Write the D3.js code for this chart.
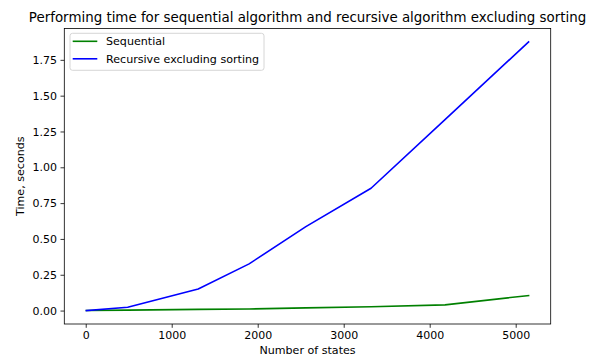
<!DOCTYPE html>
<html>
<head>
<meta charset="utf-8">
<script src="https://cdn.jsdelivr.net/npm/d3@7"></script>
<style>
  body { margin: 0; background: #fff; }
  svg { display: block; font-family: "DejaVu Sans", sans-serif; }
</style>
</head>
<body>
<svg id="chart" width="598" height="356"></svg>
<script>
// number of states
var states = [8, 488, 1308, 1900, 2560, 3318, 4178, 5150];
// seconds
var sequential = [0.0005, 0.003, 0.008, 0.011, 0.019, 0.027, 0.040, 0.105];
var recursive = [0.0, 0.023, 0.151, 0.326, 0.586, 0.854, 1.333, 1.875];
var xTicks = [0, 1000, 2000, 3000, 4000, 5000];
var yTicks = [0, 0.25, 0.5, 0.75, 1.0, 1.25, 1.5, 1.75];
var seriesNames = ['Sequential', 'Recursive excluding sorting'];
var seriesColors = ['green', 'blue'];

var svg = d3.select('#chart');
// plot area (window.top is reserved, so use own names)
var plotLeft = 64.3, plotRight = 550.7, plotTop = 28.5, plotBottom = 324;

// matplotlib style 5% margins
var xmin = d3.min(states), xmax = d3.max(states);
var dx = (xmax - xmin) * 0.05;
var x = d3.scaleLinear().domain([xmin - dx, xmax + dx]).range([plotLeft, plotRight]);

var ymin = 0, ymax = d3.max(recursive);
var dy = (ymax - ymin) * 0.05;
var y = d3.scaleLinear().domain([ymin - dy, ymax + dy]).range([plotBottom, plotTop]);

// lines
var series = [sequential, recursive];
var line = d3.line()
  .x(function(d, i) { return x(states[i]); })
  .y(function(d) { return y(d); });

svg.selectAll('path.series')
  .data(series).enter()
  .append('path')
  .attr('class', 'series')
  .attr('d', line)
  .attr('fill', 'none')
  .attr('stroke', function(d, i) { return seriesColors[i]; })
  .attr('stroke-width', 1.6)
  .attr('stroke-linejoin', 'round')
  .attr('stroke-linecap', 'square');

// axes
var xAxis = d3.axisBottom(x).tickValues(xTicks).tickFormat(d3.format('d')).tickSizeOuter(0).tickSize(3.8).tickPadding(3.6);
var yAxis = d3.axisLeft(y).tickValues(yTicks).tickFormat(d3.format('.2f')).tickSizeOuter(0).tickSize(3.8).tickPadding(3.6);

var gx = svg.append('g').attr('transform', 'translate(0,' + plotBottom + ')').call(xAxis);
var gy = svg.append('g').attr('transform', 'translate(' + plotLeft + ',0)').call(yAxis);
[gx, gy].forEach(function(g) {
  g.select('.domain').remove();
  g.selectAll('line').attr('stroke', '#000').attr('stroke-width', 0.8);
  g.selectAll('text').attr('fill', '#000').style('font-size', '11px').style('font-family', '"DejaVu Sans", sans-serif');
});

// frame
svg.append('rect')
  .attr('x', plotLeft).attr('y', plotTop)
  .attr('width', plotRight - plotLeft).attr('height', plotBottom - plotTop)
  .attr('fill', 'none').attr('stroke', '#000').attr('stroke-width', 0.8);

// title and labels
svg.append('text')
  .attr('x', (plotLeft + plotRight) / 2).attr('y', 21.5)
  .attr('text-anchor', 'middle')
  .style('font-size', '13.4px')
  .text('Performing time for sequential algorithm and recursive algorithm excluding sorting');

svg.append('text')
  .attr('x', (plotLeft + plotRight) / 2).attr('y', 354)
  .attr('text-anchor', 'middle')
  .style('font-size', '11.1px')
  .text('Number of states');

svg.append('text')
  .attr('transform', 'translate(24,' + ((plotTop + plotBottom) / 2) + ') rotate(-90)')
  .attr('text-anchor', 'middle')
  .style('font-size', '11.1px')
  .text('Time, seconds');

// legend
var legend = svg.append('g').attr('transform', 'translate(70,33.3)');
legend.append('rect')
  .attr('width', 194).attr('height', 37)
  .attr('rx', 2.5)
  .attr('fill', '#fff').attr('fill-opacity', 0.8)
  .attr('stroke', '#ccc').attr('stroke-width', 0.8);

var items = legend.selectAll('g.item')
  .data(seriesNames).enter()
  .append('g')
  .attr('class', 'item')
  .attr('transform', function(d, i) { return 'translate(0,' + (8 + i * 17.5) + ')'; });

items.append('line')
  .attr('x1', 2.7).attr('x2', 27.3)
  .attr('stroke', function(d, i) { return seriesColors[i]; })
  .attr('stroke-width', 1.6);

items.append('text')
  .attr('x', 36).attr('y', 4)
  .style('font-size', '11.1px')
  .text(function(d) { return d; });
</script>
</body>
</html>
